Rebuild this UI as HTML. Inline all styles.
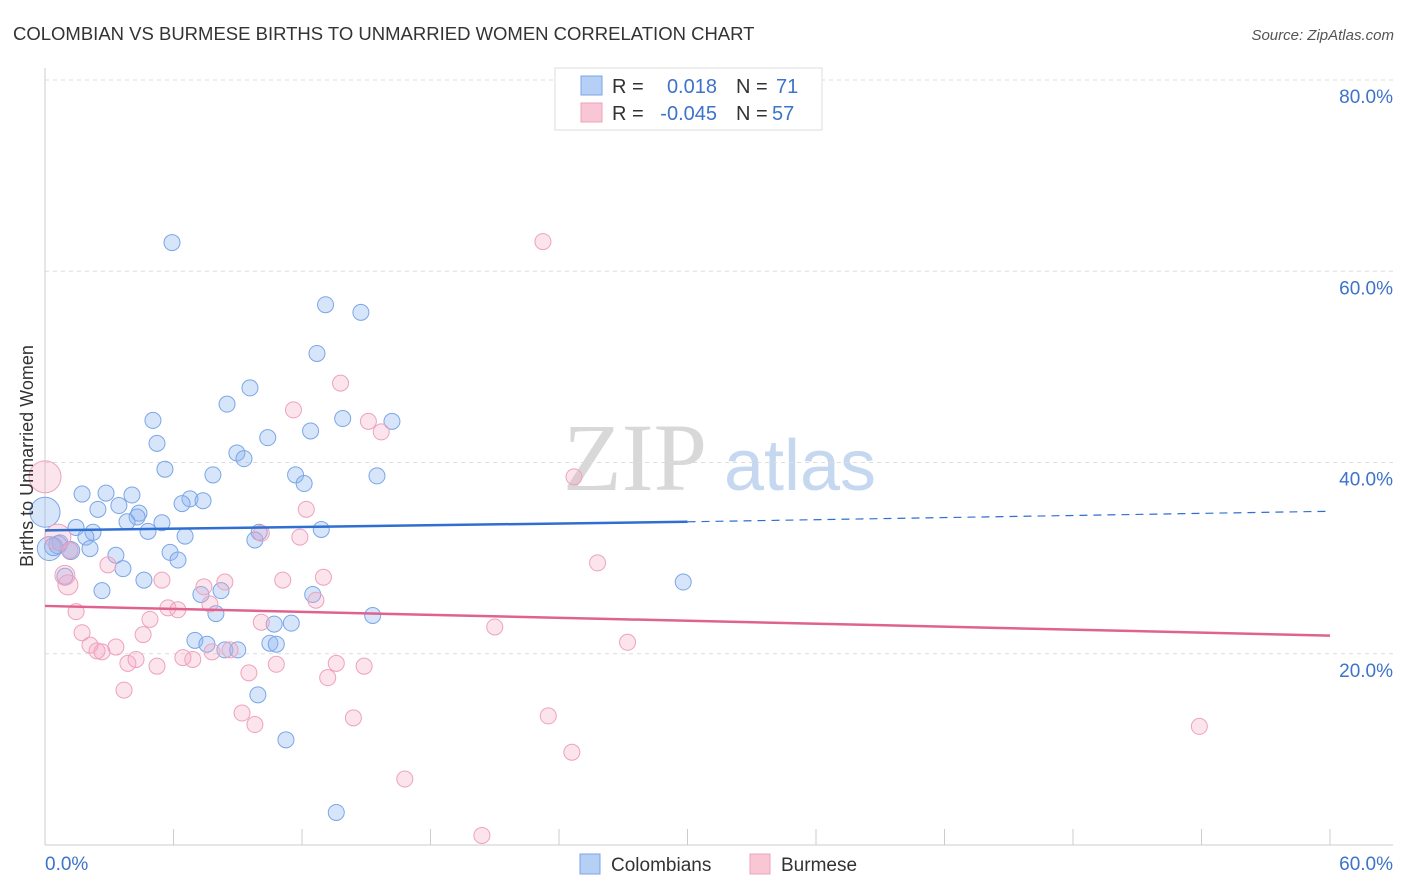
<!DOCTYPE html>
<html><head><meta charset="utf-8"><style>
body{margin:0;background:#fff;font-family:"Liberation Sans",sans-serif;}
svg{display:block}
</style></head><body>
<svg id="c" width="1406" height="892" xmlns="http://www.w3.org/2000/svg">
<text x="13" y="40" font-size="18.5" fill="#333">COLOMBIAN VS BURMESE BIRTHS TO UNMARRIED WOMEN CORRELATION CHART</text>
<text x="1394" y="40" font-size="15" fill="#555" font-style="italic" text-anchor="end">Source: ZipAtlas.com</text>
<text x="635" y="490" font-size="96" fill="#d8d8d8" font-family="Liberation Serif,serif" text-anchor="middle">ZIP</text>
<text x="800" y="490" font-size="72" fill="#c5d8f0" text-anchor="middle">atlas</text>
<g id="grid"></g>
<g id="axes"></g>
<g id="pts"></g>
<g id="trend"></g>
<text x="33" y="456" font-size="18" fill="#333" text-anchor="middle" transform="rotate(-90 33 456)">Births to Unmarried Women</text>
<g>
<rect x="555" y="68" width="267" height="62" fill="#fff" stroke="#ddd"/>
<rect x="581" y="76" width="21" height="19" fill="#b5cff5" stroke="#7aa5e6"/>
<rect x="581" y="103" width="21" height="19" fill="#f9c6d6" stroke="#eea1bb"/>
<text x="612" y="93" font-size="20" fill="#333">R =</text>
<text x="717" y="93" font-size="20" fill="#3d73c9" text-anchor="end">0.018</text>
<text x="736" y="93" font-size="20" fill="#333">N =</text>
<text x="776" y="93" font-size="20" fill="#3d73c9">71</text>
<text x="612" y="120" font-size="20" fill="#333">R =</text>
<text x="717" y="120" font-size="20" fill="#3d73c9" text-anchor="end">-0.045</text>
<text x="736" y="120" font-size="20" fill="#333">N =</text>
<text x="772" y="120" font-size="20" fill="#3d73c9">57</text>
</g>
<g>
<rect x="580" y="854" width="20" height="20" fill="#b5cff5" stroke="#7aa5e6"/>
<text x="611" y="871" font-size="19" fill="#333">Colombians</text>
<rect x="750" y="854" width="20" height="20" fill="#f9c6d6" stroke="#eea1bb"/>
<text x="781" y="871" font-size="19" fill="#333">Burmese</text>
</g>
</svg>
<script>
const yTicks=[20,40,60,80];
const xTickLabels=["0.0%","60.0%"];
const blueX=[5.93,13.1,14.75,12.7,9.57,8.5,5.04,13.9,16.2,5.23,12.4,10.4,8.96,9.29,5.6,7.84,11.7,15.5,12.1,1.73,4.06,2.85,6.77,7.38,6.4,3.45,2.47,4.39,4.3,3.83,5.46,1.45,2.24,4.81,10.0,12.9,6.54,9.8,1.91,0.7,1.17,2.1,3.31,5.84,6.21,3.64,0.93,4.62,29.8,2.66,7.28,8.22,12.5,7.98,15.3,11.5,10.7,7.0,7.56,8.4,9.0,10.5,10.8,9.94,11.25,13.6,0.0,0.2,0.6,1.2,0.4];
const blueY=[63.0,56.5,55.7,51.4,47.8,46.1,44.4,44.6,44.3,42.0,43.3,42.6,41.0,40.4,39.3,38.7,38.7,38.6,37.8,36.7,36.6,36.8,36.2,36.0,35.7,35.5,35.1,34.7,34.3,33.8,33.7,33.2,32.7,32.8,32.7,33.0,32.3,31.9,32.2,31.6,30.8,31.0,30.3,30.6,29.8,28.9,28.1,27.7,27.5,26.6,26.2,26.6,26.2,24.2,24.0,23.2,23.1,21.4,21.0,20.4,20.4,21.1,21.0,15.7,11.0,3.4,34.8,31.0,31.4,30.8,31.2];
const blueR=[8,8,8,8,8,8,8,8,8,8,8,8,8,8,8,8,8,8,8,8,8,8,8,8,8,8,8,8,8,8,8,8,8,8,8,8,8,8,8,8,8,8,8,8,8,8,8,8,8,8,8,8,8,8,8,8,8,8,8,8,8,8,8,8,8,8,15,12,9,9,9];
const pinkX=[23.25,13.8,11.6,15.1,15.7,24.7,0.0,12.2,0.6,10.1,11.9,25.8,2.94,0.93,1.07,5.46,7.42,8.4,11.1,13.0,12.65,7.7,6.2,5.74,1.45,4.9,10.1,1.73,4.58,21.0,27.2,2.1,3.31,2.43,2.66,7.8,8.64,6.9,3.87,5.23,4.25,6.44,10.8,13.6,14.9,9.52,13.2,3.69,9.2,9.8,14.4,23.5,24.6,16.8,20.4,53.9,1.17];
const pinkY=[63.1,48.3,45.5,44.3,43.2,38.5,38.5,35.1,32.2,32.6,32.2,29.5,29.3,28.2,27.2,27.7,27.0,27.5,27.7,28.0,25.6,25.2,24.6,24.8,24.4,23.6,23.3,22.2,22.0,22.8,21.2,20.9,20.7,20.3,20.2,20.2,20.4,19.4,19.0,18.7,19.4,19.6,18.9,19.0,18.7,18.0,17.5,16.2,13.8,12.6,13.3,13.5,9.7,6.9,1.0,12.4,30.8];
const pinkR=[8,8,8,8,8,8,16,8,13,8,8,8,8,10,10,8,8,8,8,8,8,8,8,8,8,8,8,8,8,8,8,8,8,8,8,8,8,8,8,8,8,8,8,8,8,8,8,8,8,8,8,8,8,8,8,8,8];
const blueTrend=[32.9,33.8,34.9];
const pinkTrend=[25.0,21.9];
const xs=v=>45+v*(1285/60);
const ys=v=>845-v*(765/80);
const NS="http://www.w3.org/2000/svg";
function mk(t,a,p){const e=document.createElementNS(NS,t);for(const k in a)e.setAttribute(k,a[k]);p.appendChild(e);return e;}
const grid=document.getElementById('grid'),axes=document.getElementById('axes'),pts=document.getElementById('pts'),tr=document.getElementById('trend');
yTicks.forEach(t=>{
 const l=mk('line',{x1:45,x2:1393,y1:ys(t),y2:ys(t),stroke:'#ddd','stroke-dasharray':'4,4'},grid);
 
 
 const tx=mk('text',{x:1393,y:ys(t)+23,'font-size':19,fill:'#3d73c9','text-anchor':'end'},grid);
 tx.textContent=t.toFixed(1)+'%';
 
 
});
mk('line',{x1:45,x2:45,y1:68,y2:845,stroke:'#ccc'},axes);
mk('line',{x1:45,x2:1393,y1:845,y2:845,stroke:'#ccc'},axes);
for(let i=0;i<=10;i++){
 const t=mk('line',{x1:xs(i*6),x2:xs(i*6),y1:829,y2:845,stroke:'#ccc'},axes);
 
 
}
[[0,'start',45],[60,'end',1393]].forEach((d,i)=>{
 const tx=mk('text',{x:d[2],y:870,'font-size':19,fill:'#3d73c9','text-anchor':d[1]},axes);
 tx.textContent=xTickLabels[i];
 
 
});
blueX.forEach((x,i)=>{
 const c=mk('circle',{cx:xs(x),cy:ys(blueY[i]),r:blueR[i],fill:'rgba(140,180,240,0.35)',stroke:'#7aa6e6','stroke-width':1},pts);
 
 
});
pinkX.forEach((x,i)=>{
 const c=mk('circle',{cx:xs(x),cy:ys(pinkY[i]),r:pinkR[i],fill:'rgba(245,165,195,0.3)',stroke:'#eea2bd','stroke-width':1},pts);
 
 
});
const b1=mk('line',{x1:xs(0),y1:ys(blueTrend[0]),x2:xs(30),y2:ys(blueTrend[1]),stroke:'#2f6fd1','stroke-width':2.5},tr);


const b2=mk('line',{x1:xs(30),y1:ys(blueTrend[1]),x2:xs(60),y2:ys(blueTrend[2]),stroke:'#2f6fd1','stroke-width':1.2,'stroke-dasharray':'8,6'},tr);


const p1=mk('line',{x1:xs(0),y1:ys(pinkTrend[0]),x2:xs(60),y2:ys(pinkTrend[1]),stroke:'#e0628f','stroke-width':2.5},tr);


</script>
</body></html>
